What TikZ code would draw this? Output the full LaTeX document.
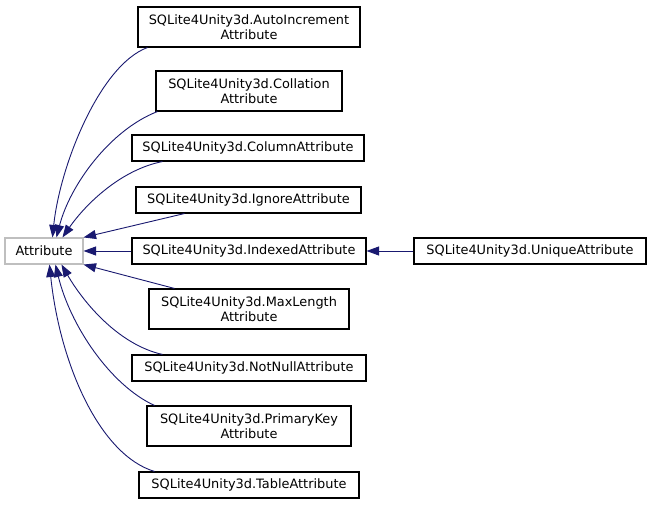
\documentclass[tikz,border=0pt]{standalone}
\usepackage{fontspec}
\setmainfont{DejaVu Sans}
\usetikzlibrary{arrows.meta}
\definecolor{edgecol}{RGB}{25,25,112}
\definecolor{graybox}{RGB}{191,191,191}
\begin{document}
\begin{tikzpicture}[x=1pt,y=1pt,
  cls/.style={draw=black, line width=1.1pt, inner sep=0pt, align=center,
    font=\fontsize{12.9}{15}\selectfont, minimum height=26pt},
  cls2/.style={cls, minimum height=40pt},
  basecls/.style={cls, draw=graybox},
  inh/.style={draw=edgecol, line width=0.9pt,
    -{Triangle[length=12.5pt,width=9pt]}}]
\useasboundingbox (0,0) rectangle (651,505);
\fill[white] (0,0) rectangle (651,505);
\node[basecls, minimum width=78pt] (attr) at (44,254) {Attribute};
\node[cls2, minimum width=222pt] (auto) at (249,478) {SQLite4Unity3d.AutoIncrement\\Attribute};
\node[cls2, minimum width=186pt] (coll) at (249,414) {SQLite4Unity3d.Collation\\Attribute};
\node[cls, minimum width=232pt] (col) at (248,357) {SQLite4Unity3d.ColumnAttribute};
\node[cls, minimum width=225pt] (ign) at (248.5,305) {SQLite4Unity3d.IgnoreAttribute};
\node[cls, minimum width=234pt] (idx) at (249,254) {SQLite4Unity3d.IndexedAttribute};
\node[cls2, minimum width=200pt] (max) at (249,196) {SQLite4Unity3d.MaxLength\\Attribute};
\node[cls, minimum width=234pt] (nn) at (249,137) {SQLite4Unity3d.NotNullAttribute};
\node[cls2, minimum width=204pt] (pk) at (249,79) {SQLite4Unity3d.PrimaryKey\\Attribute};
\node[cls, minimum width=220pt] (tab) at (249,20) {SQLite4Unity3d.TableAttribute};
\node[cls, minimum width=232pt] (uniq) at (530,254) {SQLite4Unity3d.UniqueAttribute};

\draw[inh] ([xshift=10pt]auto.south west) .. controls (100,440) and (60,340) .. ([xshift=48pt]attr.north west);
\draw[inh] ([xshift=2pt]coll.south west) .. controls (110,375) and (70,320) .. ([xshift=52pt]attr.north west);
\draw[inh] ([xshift=31pt]col.south west) .. controls (120,335) and (85,300) .. ([xshift=58pt]attr.north west);
\draw[inh] ([xshift=49pt]ign.south west) -- (attr.north east);
\draw[inh] (idx.west) -- (attr.east);
\draw[inh] ([xshift=26pt]max.north west) -- (attr.south east);
\draw[inh] ([xshift=31pt]nn.north west) .. controls (120,160) and (85,200) .. ([xshift=57pt]attr.south west);
\draw[inh] ([xshift=8pt]pk.north west) .. controls (110,120) and (70,180) .. ([xshift=51pt]attr.south west);
\draw[inh] ([xshift=16pt]tab.north west) .. controls (100,50) and (60,140) .. ([xshift=45pt]attr.south west);
\draw[inh] (uniq.west) -- (idx.east);
\end{tikzpicture}
\end{document}
